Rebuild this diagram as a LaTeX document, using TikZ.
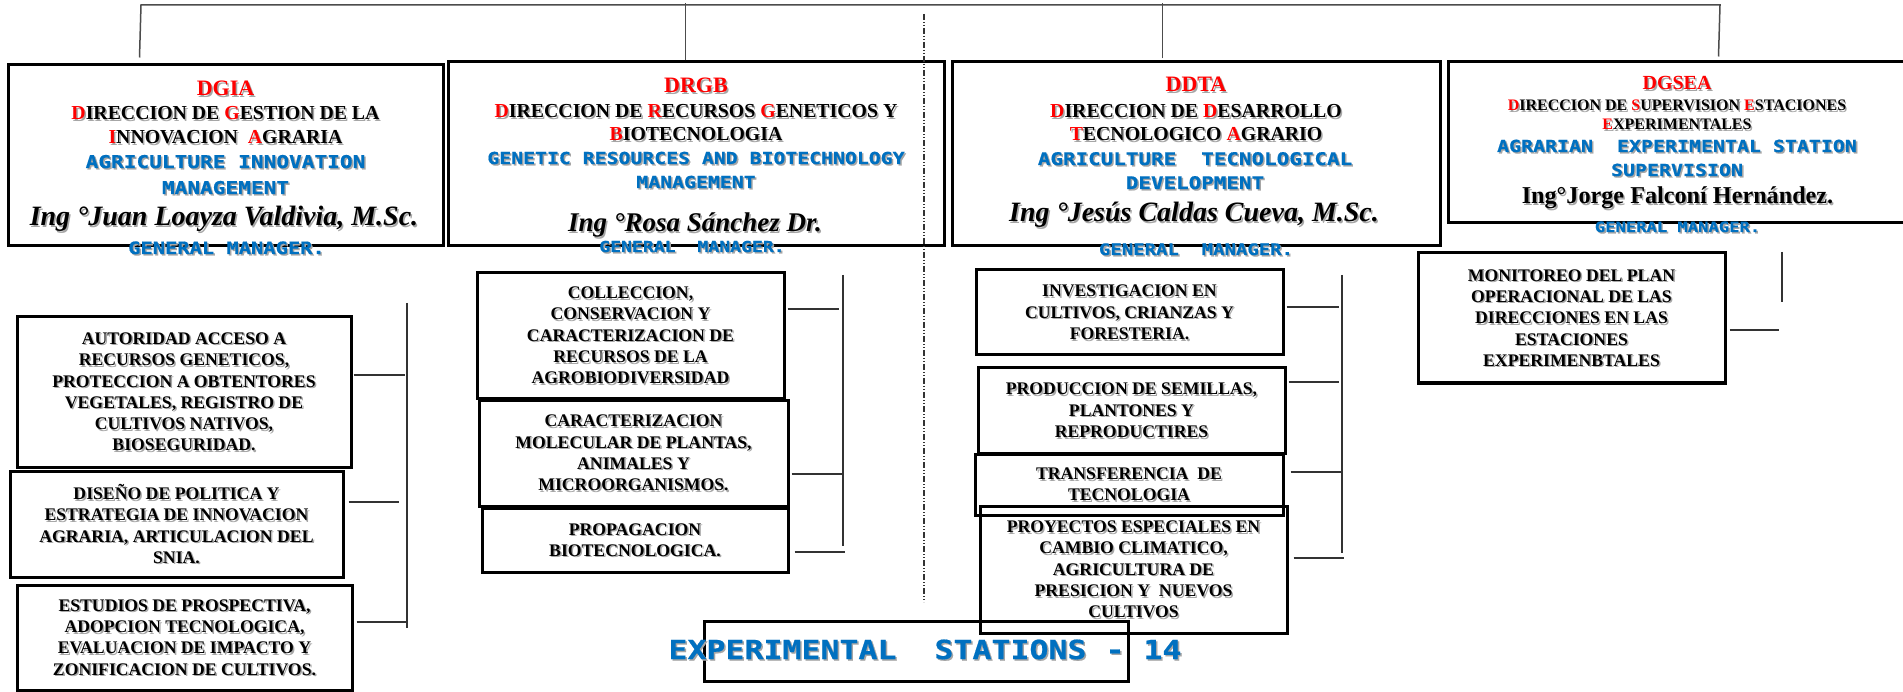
\documentclass[tikz,border=0pt]{standalone}
\usepackage{fontspec}
\setmainfont{Liberation Serif}
\newfontfamily\monofam[FakeStretch=1.2, UprightFont=* Bold, BoldFont=* Bold,
  UprightFeatures={FakeBold=0.6}, BoldFeatures={FakeBold=0.6}]{DejaVu Sans Mono}
\usetikzlibrary{calc}

\definecolor{wordblue}{HTML}{0070C0}
\definecolor{wordred}{HTML}{FF0000}
\colorlet{shadowgray}{black!35}

% red initial letters of the Spanish names
\newcommand\hl[1]{\textcolor{wordred}{#1}}
% text with a soft grey drop shadow
\newcommand\sh[1]{\leavevmode\rlap{\kern1.5pt\raisebox{-1.5pt}[0pt][0pt]{\def\hl##1{##1}\color{shadowgray}#1}}#1}

\tikzset{
  orgbox/.style={draw=black, line width=3pt, rectangle, inner sep=0pt, align=center},
  subtext/.style={font=\bfseries\fontsize{17.7}{21.3}\selectfont},
  txtline/.style={anchor=base, inner sep=0pt},
  ttl/.style={txtline, text=wordred, font=\bfseries\fontsize{#1}{#1}\selectfont},
  dirl/.style={txtline, font=\bfseries\fontsize{#1}{#1}\selectfont},
  eng/.style={txtline, text=wordblue, font=\monofam\fontsize{#1}{#1}\selectfont},
  nm/.style={txtline, font=\bfseries\itshape\fontsize{#1}{#1}\selectfont},
  conn/.style={draw=black!80, line width=1.3pt},
  rail/.style={draw=black!70, line width=1.5pt},
  divider/.style={draw=black!80, line width=1.2pt,
    dash pattern=on 6pt off 2pt on 1pt off 2pt on 1pt off 2pt},
}

\begin{document}
\begin{tikzpicture}[x=1pt, y=-1pt]
\useasboundingbox (0,0) rectangle (1903,692);
\fill[white] (0,0) rectangle (1903,692);
\clip (0,0) rectangle (1903,692);

% ---------- direction boxes ----------
\node[orgbox, minimum width=435, minimum height=181] (dgia)  at (225.5,155.5) {};
\node[orgbox, minimum width=496, minimum height=184] (drgb)  at (696,154) {};
\node[orgbox, minimum width=488, minimum height=184] (ddta)  at (1196,154) {};
\node[orgbox, minimum width=458, minimum height=161] (dgsea) at (1677,142.5) {};

% ---------- top rail ----------
\coordinate (rail-l) at (141,5);
\coordinate (rail-r) at (1720,5);
\draw[rail] ($(dgia.north west)+(133,-6)$) -- (rail-l) -- (rail-r) -- ($(dgsea.north west)+(272,-4)$);
\draw[rail] ($(drgb.north west)+(239,0)$) -- ++(0,-57);
\draw[rail] ($(ddta.north west)+(212,-2)$) -- ++(0,-55);

% ---------- divider ----------
\coordinate (div-top) at (924,14);
\coordinate (div-bot) at (924,602);
\draw[divider] (div-top) -- (div-bot);

% ---------- DGIA ----------
\node[ttl=22]  (dgia-abbr) at (225.5,96)  {\sh{DGIA}};
\node[dirl=19.8] (dgia-es1) at (225.5,120) {\sh{\hl{D}IRECCION DE \hl{G}ESTION DE LA}};
\node[dirl=19.8] (dgia-es2) at (225.5,144) {\sh{\hl{I}NNOVACION\ \ \hl{A}GRARIA}};
\node[eng=17.6] (dgia-en1) at (225.5,168) {\sh{AGRICULTURE INNOVATION}};
\node[eng=17.6] (dgia-en2) at (225.5,194) {\sh{MANAGEMENT}};
\node[nm=28]   (dgia-name) at (224,226) {\sh{Ing °Juan Loayza Valdivia, M.Sc.}};
\node[eng=17]  (dgia-role) at (226.5,254) {\sh{GENERAL MANAGER.}};

% ---------- DRGB ----------
\node[ttl=22]  (drgb-abbr) at (696,93)  {\sh{DRGB}};
\node[dirl=19.8] (drgb-es1) at (696,118) {\sh{\hl{D}IRECCION DE \hl{R}ECURSOS \hl{G}ENETICOS Y}};
\node[dirl=19.8] (drgb-es2) at (696,141) {\sh{\hl{B}IOTECNOLOGIA}};
\node[eng=16.5] (drgb-en1) at (696,164) {\sh{GENETIC RESOURCES AND BIOTECHNOLOGY}};
\node[eng=16.5] (drgb-en2) at (696,188) {\sh{MANAGEMENT}};
\node[nm=27]   (drgb-name) at (695,232) {\sh{Ing °Rosa Sánchez Dr.}};
\node[eng=15.1] (drgb-role) at (692,252) {\sh{GENERAL\ \ MANAGER.}};

% ---------- DDTA ----------
\node[ttl=22]  (ddta-abbr) at (1196,92)  {\sh{DDTA}};
\node[dirl=19.8] (ddta-es1) at (1196,118) {\sh{\hl{D}IRECCION DE \hl{D}ESARROLLO}};
\node[dirl=19.8] (ddta-es2) at (1196,141) {\sh{\hl{T}ECNOLOGICO \hl{A}GRARIO}};
\node[eng=17.4] (ddta-en1) at (1195,165) {\sh{AGRICULTURE\ \ TECNOLOGICAL}};
\node[eng=17.4] (ddta-en2) at (1195,189) {\sh{DEVELOPMENT}};
\node[nm=28]   (ddta-name) at (1194,222) {\sh{Ing °Jesús Caldas Cueva, M.Sc.}};
\node[eng=15.8] (ddta-role) at (1196,255) {\sh{GENERAL\ \ MANAGER.}};

% ---------- DGSEA ----------
\node[ttl=20]  (dgsea-abbr) at (1677,90)  {\sh{DGSEA}};
\node[dirl=16] (dgsea-es1) at (1677,111) {\sh{\hl{D}IRECCION DE \hl{S}UPERVISION \hl{E}STACIONES}};
\node[dirl=16] (dgsea-es2) at (1677,130) {\sh{\hl{E}XPERIMENTALES}};
\node[eng=16.6] (dgsea-en1) at (1677,152) {\sh{AGRARIAN\ \ EXPERIMENTAL STATION}};
\node[eng=16.6] (dgsea-en2) at (1677,176) {\sh{SUPERVISION}};
\node[dirl=24.2] (dgsea-name) at (1677.5,204) {\sh{Ing°Jorge Falconí Hernández.}};
\node[eng=14.3] (dgsea-role) at (1677.5,232) {\sh{GENERAL MANAGER.}};

% ---------- DGIA units ----------
\node[orgbox, subtext, minimum width=334, minimum height=150] (a1) at (184,392)
  {\sh{AUTORIDAD ACCESO A}\\\sh{RECURSOS GENETICOS,}\\\sh{PROTECCION A OBTENTORES}\\
   \sh{VEGETALES, REGISTRO DE}\\\sh{CULTIVOS NATIVOS,}\\\sh{BIOSEGURIDAD.}};
\node[orgbox, subtext, minimum width=333, minimum height=106] (a2) at (176.5,524)
  {\sh{DISEÑO DE POLITICA Y}\\\sh{ESTRATEGIA DE INNOVACION}\\\sh{AGRARIA, ARTICULACION DEL}\\\sh{SNIA.}};
\node[orgbox, subtext, minimum width=335, minimum height=105] (a3) at (184.5,637.5)
  {\sh{ESTUDIOS DE PROSPECTIVA,}\\\sh{ADOPCION TECNOLOGICA,}\\\sh{EVALUACION DE IMPACTO Y}\\\sh{ZONIFICACION DE CULTIVOS.}};

\coordinate (busa-top) at (407,303);
\coordinate (busa-bot) at (407,628);
\draw[conn] (busa-top) -- (busa-bot);
\draw[conn] ($(a1.east)+(1,-17)$) -- ++(51,0);
\draw[conn] ($(a2.east)+(4,-22)$) -- ++(50,0);
\draw[conn] ($(a3.east)+(3,-15.5)$) -- ++(50,0);

% ---------- DRGB units ----------
\node[orgbox, subtext, minimum width=307, minimum height=125] (b1) at (630.5,335.5)
  {\sh{COLLECCION,}\\\sh{CONSERVACION Y}\\\sh{CARACTERIZACION DE}\\\sh{RECURSOS DE LA}\\\sh{AGROBIODIVERSIDAD}};
\node[orgbox, subtext, minimum width=309, minimum height=106] (b2) at (633.5,453)
  {\sh{CARACTERIZACION}\\\sh{MOLECULAR DE PLANTAS,}\\\sh{ANIMALES Y}\\\sh{MICROORGANISMOS.}};
\node[orgbox, subtext, minimum width=306, minimum height=64] (b3) at (635,540)
  {\sh{PROPAGACION}\\\sh{BIOTECNOLOGICA.}};

\coordinate (busb-top) at (843,275);
\coordinate (busb-bot) at (843,546);
\draw[conn] (busb-top) -- (busb-bot);
\draw[conn] ($(b1.east)+(2,-26.5)$) -- ++(51,0);
\draw[conn] ($(b2.east)+(2,21)$) -- ++(51,0);
\draw[conn] ($(b3.east)+(5,12)$) -- ++(50,0);

% ---------- DDTA units ----------
\node[orgbox, subtext, minimum width=307, minimum height=85] (c1) at (1129.5,312.5)
  {\sh{INVESTIGACION EN}\\\sh{CULTIVOS, CRIANZAS Y}\\\sh{FORESTERIA.}};
\node[orgbox, subtext, minimum width=307, minimum height=85] (c2) at (1131.5,410.5)
  {\sh{PRODUCCION DE SEMILLAS,}\\\sh{PLANTONES Y}\\\sh{REPRODUCTIRES}};
\node[orgbox, subtext, minimum width=308, minimum height=61] (c3) at (1129,484.5)
  {\sh{TRANSFERENCIA\ \ DE}\\\sh{TECNOLOGIA}};
\node[orgbox, subtext, minimum width=307, minimum height=127] (c4) at (1133.5,569.5)
  {\sh{PROYECTOS ESPECIALES EN}\\\sh{CAMBIO CLIMATICO,}\\\sh{AGRICULTURA DE}\\\sh{PRESICION Y\ \ NUEVOS}\\\sh{CULTIVOS}};

\coordinate (busc-top) at (1342,275);
\coordinate (busc-bot) at (1342,553);
\draw[conn] (busc-top) -- (busc-bot);
\draw[conn] ($(c1.east)+(2,-5.5)$) -- ++(52,0);
\draw[conn] ($(c2.east)+(2,-28.5)$) -- ++(50,0);
\draw[conn] ($(c3.east)+(6,-12.5)$) -- ++(51,0);
\draw[conn] ($(c4.east)+(5,-11.5)$) -- ++(50,0);

% ---------- DGSEA unit ----------
\node[orgbox, subtext, minimum width=307, minimum height=130] (d1) at (1571.5,318)
  {\sh{MONITOREO DEL PLAN}\\\sh{OPERACIONAL DE LAS}\\\sh{DIRECCIONES EN LAS}\\\sh{ESTACIONES}\\\sh{EXPERIMENBTALES}};
\coordinate (busd-top) at (1782,252);
\coordinate (busd-bot) at (1782,302);
\draw[conn] (busd-top) -- (busd-bot);
\draw[conn] ($(d1.east)+(3,12)$) -- ++(49,0);

% ---------- experimental stations ----------
\node[orgbox, minimum width=424, minimum height=60] (stations) at (916,651) {};
\node[eng=26.3] (stations-label) at (925,659) {\sh{EXPERIMENTAL\ \ STATIONS - 14}};

\end{tikzpicture}
\end{document}
